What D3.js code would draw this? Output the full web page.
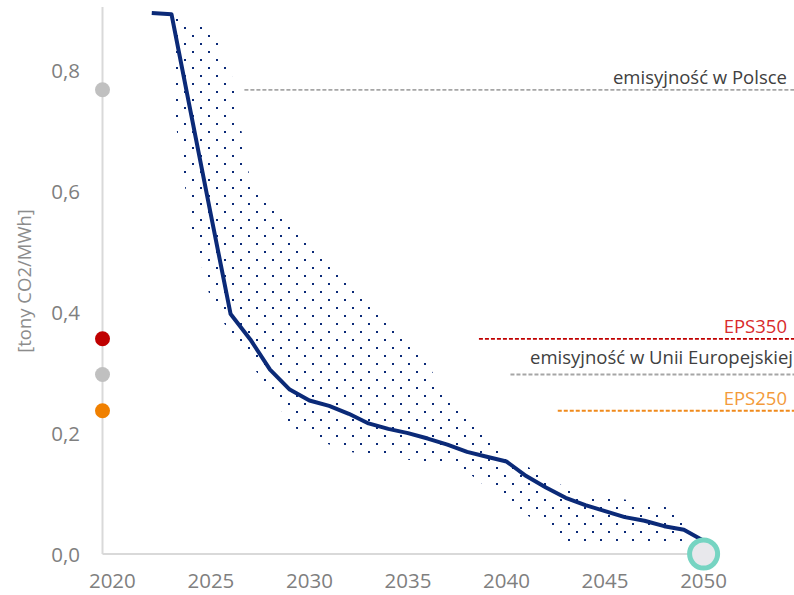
<!DOCTYPE html>
<html>
<head>
<meta charset="utf-8">
<script src="https://cdn.jsdelivr.net/npm/d3@7"></script>
<style>
  body { margin: 0; background: #fff; }
  text { font-family: "Open Sans", "Noto Sans", sans-serif; }
</style>
</head>
<body>
<div id="chart"></div>
<script>
const width = 794;
const height = 595;

// main path
const lineYears = d3.range(2022, 2051);
const lineValues = [0.895, 0.893, 0.727, 0.561, 0.397, 0.355, 0.305, 0.272, 0.254, 0.245,
  0.232, 0.216, 0.207, 0.200, 0.191, 0.181, 0.169, 0.161, 0.153, 0.129,
  0.110, 0.093, 0.081, 0.071, 0.061, 0.055, 0.046, 0.040, 0.022];

// dotted range
const bandYears = d3.range(2023, 2050);
const bandUpper = [0.890, 0.880, 0.870, 0.804, 0.616, 0.588, 0.544, 0.511, 0.479, 0.446,
  0.413, 0.381, 0.348, 0.315, 0.256, 0.222, 0.189, 0.164, 0.146, 0.126,
  0.111, 0.100, 0.093, 0.090, 0.085, 0.078, 0.070];
const bandLower = [0.760, 0.538, 0.420, 0.363, 0.316, 0.269, 0.214, 0.194, 0.181, 0.169,
  0.164, 0.159, 0.156, 0.151, 0.146, 0.136, 0.110, 0.081, 0.065, 0.045,
  0.020, 0.020, 0.020, 0.020, 0.020, 0.020, 0.020];

// reference levels
const refNames = ["emisyjność w Polsce", "EPS350", "emisyjność w Unii Europejskiej", "EPS250"];
const refValues = [0.768, 0.356, 0.297, 0.237];
const refStart = [2026.7, 2038.6, 2040.2, 2042.6];
const refLine = ["#a6a6a6", "#c00000", "#a6a6a6", "#f08a1c"];
const refText = ["#404040", "#d92b2b", "#404040", "#f39a3a"];
const refDot = ["#c0c0c0", "#c00000", "#c0c0c0", "#f08000"];

const xTicks = [2020, 2025, 2030, 2035, 2040, 2045, 2050];
const yTicks = [0, 0.2, 0.4, 0.6, 0.8];
const fmt = d => d3.format(".1f")(d).replace(".", ",");

const x = d3.scaleLinear().domain([2019.5, 2050]).range([102.5, 703.6]);
const y = d3.scaleLinear().domain([0, 0.9]).range([554, 10]);

const svg = d3.select("#chart").append("svg")
  .attr("width", width).attr("height", height);

const pat = svg.append("defs").append("pattern")
  .attr("id", "dots").attr("patternUnits", "userSpaceOnUse")
  .attr("width", 16).attr("height", 16);
pat.append("rect").attr("x", 0).attr("y", 3).attr("width", 2).attr("height", 2).attr("fill", "#0b2a78");
pat.append("rect").attr("x", 8).attr("y", 11).attr("width", 2).attr("height", 2).attr("fill", "#0b2a78");

// axes
svg.append("line")
  .attr("x1", x(2019.5)).attr("x2", x(2019.5))
  .attr("y1", y(0.905)).attr("y2", y(0))
  .attr("stroke", "#d9d9d9").attr("stroke-width", 2);
svg.append("line")
  .attr("x1", x(2019.5)).attr("x2", x(2050))
  .attr("y1", y(0)).attr("y2", y(0))
  .attr("stroke", "#d9d9d9").attr("stroke-width", 2);

svg.selectAll(".ytick").data(yTicks).enter().append("text")
  .attr("x", 80).attr("y", d => y(d) + 7.5)
  .attr("text-anchor", "end").attr("font-size", 20.5).attr("fill", "#7f7f7f")
  .text(fmt);
svg.selectAll(".xtick").data(xTicks).enter().append("text")
  .attr("x", d => x(d)).attr("y", 588)
  .attr("text-anchor", "middle").attr("font-size", 20.5).attr("fill", "#7f7f7f")
  .text(d => d);

svg.append("text")
  .attr("transform", "translate(31,281) rotate(-90)")
  .attr("text-anchor", "middle").attr("font-size", 18.5).attr("fill", "#8c8c8c")
  .text("[tony CO2/MWh]");

// band
const area = d3.area()
  .x((d, i) => x(bandYears[i]))
  .y0((d, i) => y(bandLower[i]))
  .y1(d => y(d));
svg.append("path")
  .attr("d", area(bandUpper))
  .attr("fill", "url(#dots)");

// reference lines
refValues.forEach((v, i) => {
  svg.append("line")
    .attr("x1", x(refStart[i])).attr("x2", width)
    .attr("y1", y(v)).attr("y2", y(v))
    .attr("stroke", refLine[i]).attr("stroke-width", 1.8)
    .attr("stroke-dasharray", "4,2");
  svg.append("text")
    .attr("x", i == 2 ? 793 : 787).attr("y", y(v) - (i == 2 ? 10 : 6))
    .attr("text-anchor", "end").attr("font-size", 18.5).attr("fill", refText[i])
    .text(refNames[i]);
  svg.append("circle")
    .attr("cx", x(2019.5)).attr("cy", y(v)).attr("r", 7.5)
    .attr("fill", refDot[i]);
});

const line = d3.line()
  .x((d, i) => x(lineYears[i]))
  .y(d => y(d));
svg.append("path")
  .attr("d", line(lineValues))
  .attr("fill", "none").attr("stroke", "#0b2a78")
  .attr("stroke-width", 4).attr("stroke-linejoin", "round");

svg.append("circle")
  .attr("cx", x(2050)).attr("cy", y(0)).attr("r", 14)
  .attr("fill", "#e8e8ec").attr("stroke", "#76d4c2").attr("stroke-width", 5);
</script>
</body>
</html>
